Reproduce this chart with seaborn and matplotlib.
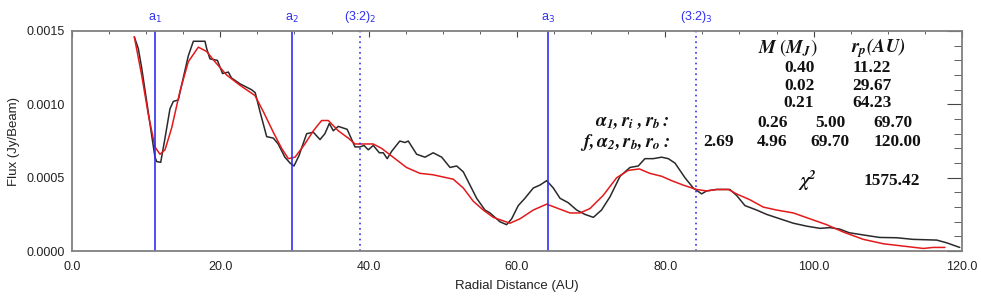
import seaborn as sns
import matplotlib.pyplot as plt
import pandas as pd

# observed radial profile (black)
obs_x = [8.4, 8.94, 9.39, 10.07, 10.74, 11.19, 11.42, 11.96, 12.54, 13.21, 13.66, 14.33, 15.0, 15.68,
         16.36, 17.93, 18.16, 18.6, 19.6, 20.3, 21.08, 21.5, 22.65, 24.2, 24.7, 25.35, 26.25, 27.14,
         27.8, 28.7, 29.4, 29.93, 30.6, 31.64, 32.54, 33.44, 34.1, 34.7, 35.23, 35.9, 37.1, 38.16,
         38.83, 39.37, 39.95, 40.62, 41.44, 41.97, 42.5, 43.1, 44.2, 44.9, 45.34, 46.47, 47.6, 48.7,
         49.85, 50.97, 51.87, 52.76, 53.66, 54.56, 55.68, 56.36, 57.7, 58.6, 59.28, 60.17, 61.07, 62.2,
         63.1, 64.0, 64.9, 65.8, 66.9, 68.05, 69.17, 70.3, 71.4, 72.54, 73.9, 75.23, 76.35, 77.25,
         78.37, 79.5, 80.4, 81.3, 82.65, 83.77, 84.9, 85.57, 86.9, 88.7, 89.6, 90.74, 92.3, 93.67,
         95.46, 97.26, 99.06, 100.85, 102.2, 103.5, 104.8, 106.7, 108.9, 111.2, 113.4, 116.6, 117.9, 119.7]
obs_y = [0.00146, 0.00138, 0.00125, 0.00102, 0.00079, 0.00064, 0.00061, 0.000605, 0.00077, 0.00097,
         0.00102, 0.00103, 0.00118, 0.00133, 0.00143, 0.00143, 0.00138, 0.00131, 0.00130, 0.00121,
         0.00122, 0.00118, 0.00114, 0.00110, 0.00108, 0.00095, 0.00078, 0.00077, 0.00073, 0.00064,
         0.00060, 0.00058, 0.00065, 0.00080, 0.00081, 0.00076, 0.00080, 0.00087, 0.00082, 0.00085,
         0.00083, 0.00071, 0.00071, 0.00072, 0.00069, 0.00072, 0.00067, 0.00067, 0.00063, 0.00068,
         0.00075, 0.00074, 0.00075, 0.00066, 0.00064, 0.00067, 0.00064, 0.00057, 0.00058, 0.00054,
         0.00045, 0.00036, 0.00028, 0.00026, 0.00020, 0.00018, 0.00022, 0.00031, 0.00036, 0.00043,
         0.00045, 0.00048, 0.00043, 0.00036, 0.00033, 0.00028, 0.00025, 0.00023, 0.00028, 0.00037,
         0.00051, 0.00057, 0.00058, 0.00063, 0.00063, 0.00064, 0.00063, 0.00060, 0.00050, 0.00043,
         0.00039, 0.00041, 0.00042, 0.00042, 0.00038, 0.00031, 0.00028, 0.00025, 0.00022, 0.00019,
         0.00017, 0.000155, 0.00016, 0.00015, 0.000125, 0.00011, 0.000093, 0.000091, 0.00008,
         0.000075, 0.000057, 0.000025]

# model profile (red)
mod_x = [8.4, 9.39, 10.29, 11.19, 11.86, 12.54, 13.44, 14.56, 15.68, 17.03, 18.16, 19.28, 20.85,
         22.65, 24.67, 25.8, 27.14, 28.27, 29.17, 30.07, 31.4, 32.54, 33.66, 34.56, 35.9, 37.25,
         38.16, 39.28, 40.62, 41.75, 43.3, 45.1, 46.9, 48.7, 50.5, 51.4, 52.76, 54.1, 55.45, 56.8,
         59.05, 60.4, 62.2, 64.0, 65.57, 67.14, 68.5, 69.84, 71.63, 73.44, 75.0, 76.5, 77.9, 79.5,
         80.85, 82.4, 84.2, 85.57, 86.9, 88.5, 89.6, 91.4, 93.2, 95.0, 97.26, 99.5, 101.75, 104.0,
         106.7, 109.4, 112.1, 114.8, 116.1, 117.7]
mod_y = [0.00146, 0.00120, 0.00093, 0.00071, 0.00066, 0.00069, 0.00084, 0.00109, 0.00129, 0.00139,
         0.00136, 0.00129, 0.00120, 0.00113, 0.00106, 0.00095, 0.00081, 0.00070, 0.00063, 0.00064,
         0.00073, 0.00082, 0.00089, 0.00089, 0.00082, 0.00077, 0.00073, 0.00073, 0.00073, 0.00070,
         0.00064, 0.00057, 0.00053, 0.00052, 0.00050, 0.00049, 0.00043, 0.00034, 0.00028, 0.00023,
         0.00019, 0.00022, 0.00028, 0.00032, 0.00029, 0.00026, 0.00026, 0.00029, 0.00038, 0.00050,
         0.00055, 0.00056, 0.00053, 0.00051, 0.00048, 0.00045, 0.00042, 0.00041, 0.00042, 0.00042,
         0.00039, 0.00035, 0.00030, 0.00028, 0.00026, 0.00022, 0.00018, 0.00013, 0.00008, 0.00005,
         0.000034, 0.000018, 0.000025, 0.000025]

# planet positions and 3:2 resonances
gap_r = [11.22, 29.67, 64.23]
gap_labels = [r"a$_1$", r"a$_2$", r"a$_3$"]
res_r = [38.87, 84.17]
res_labels = [r"(3:2)$_2$", r"(3:2)$_3$"]

x_ticks = [0, 20, 40, 60, 80, 100, 120]
x_ticklabels = ["0.0", "20.0", "40.0", "60.0", "80.0", "100.0", "120.0"]
y_ticks = [0, 0.0005, 0.0010, 0.0015]
y_ticklabels = ["0.0000", "0.0005", "0.0010", "0.0015"]

# fit parameters table
mass = ["0.40", "0.02", "0.21"]
r_p = ["11.22", "29.67", "64.23"]
inner = ["0.26", "5.00", "69.70"]
outer = ["2.69", "4.96", "69.70", "120.00"]
chi2 = "1575.42"

sns.set_style("white")
plt.rcParams['font.family'] = ['Liberation Sans', 'DejaVu Sans']

df_obs = pd.DataFrame({"r": obs_x, "flux": obs_y})
df_mod = pd.DataFrame({"r": mod_x, "flux": mod_y})

fig = plt.figure(figsize=(9.81, 3.0), dpi=100)
ax = fig.add_axes([0.0734, 0.163, 0.9072, 0.7337])

sns.lineplot(x="r", y="flux", data=df_obs, ax=ax, color="#2a2a2a", lw=1.1,
             sort=False, estimator=None)
sns.lineplot(x="r", y="flux", data=df_mod, ax=ax, color="#e3191c", lw=1.1,
             sort=False, estimator=None)

blue = "#2f2ff2"
trans = ax.get_xaxis_transform()
for r, lab in zip(gap_r, gap_labels):
    ax.axvline(r, color=blue, lw=1.2)
    ax.text(r, 1.025, lab, transform=trans, ha="center", va="bottom", color=blue,
            fontsize=9, math_fontfamily="dejavusans")
for r, lab in zip(res_r, res_labels):
    ax.axvline(r, color=blue, lw=1.2, ls=(0, (1, 2.2)))
    ax.text(r, 1.025, lab, transform=trans, ha="center", va="bottom", color=blue,
            fontsize=9, math_fontfamily="dejavusans")

ax.set_xlim(0, 120)
ax.set_ylim(0, 0.0015)
ax.set_xticks(x_ticks, x_ticklabels)
ax.set_yticks(y_ticks, y_ticklabels)
ax.set_xticks(range(0, 121, 5), minor=True)
ax.set_yticks([i * 0.0001 for i in range(16)], minor=True)
ax.tick_params(axis="both", which="both", direction="in", top=True, right=True,
               color="#444444", labelsize=9, labelcolor="#222222")
ax.tick_params(axis="x", which="major", length=4, pad=7)
ax.tick_params(axis="x", which="minor", length=2.5)
ax.tick_params(axis="y", which="major", length=11, pad=5)
ax.tick_params(axis="y", which="minor", length=6)
for sp in ax.spines.values():
    sp.set_color("#808080")
    sp.set_linewidth(1.3)

ax.set_xlabel("Radial Distance (AU)", fontsize=9.5, color="#222222")
ax.set_ylabel("Flux (Jy/Beam)", fontsize=9.5, color="#222222")
ax.xaxis.set_label_coords(0.5, -0.13)
ax.yaxis.set_label_coords(-0.058, 0.5)

# parameter table
tk = dict(transform=ax.transAxes, fontweight="bold", family="Liberation Serif",
          color="#111111", va="center")
mk = dict(tk, fontsize=13.5, math_fontfamily="stix")
ax.text(0.804, 0.923, r"$\mathbfit{M}\ \left(\mathbfit{M_J}\right)$", ha="center", **mk)
ax.text(0.906, 0.923, r"$\mathbfit{r_p(AU)}$", ha="center", **mk)
for i, (m, r) in enumerate(zip(mass, r_p)):
    yy = [0.830, 0.750, 0.675][i]
    ax.text(0.817, yy, m, ha="center", fontsize=12.5, **tk)
    ax.text(0.899, yy, r, ha="center", fontsize=12.5, **tk)
ax.text(0.672, 0.582, r"$\mathbfit{\alpha_1, r_i\ , r_b:}$", ha="right", **mk)
ax.text(0.672, 0.495, r"$\mathbfit{f, \alpha_2, r_b, r_o:}$", ha="right", **mk)
for xx, v in zip([0.787, 0.852, 0.922], inner):
    ax.text(xx, 0.582, v, ha="center", fontsize=12.5, **tk)
for xx, v in zip([0.726, 0.787, 0.852, 0.928], outer):
    ax.text(xx, 0.495, v, ha="center", fontsize=12.5, **tk)
ax.text(0.826, 0.318, r"$\mathbfit{\chi^2}$", ha="center", **mk)
ax.text(0.921, 0.318, chi2, ha="center", fontsize=12.5, **tk)

fig.savefig("out.png", dpi=100)
